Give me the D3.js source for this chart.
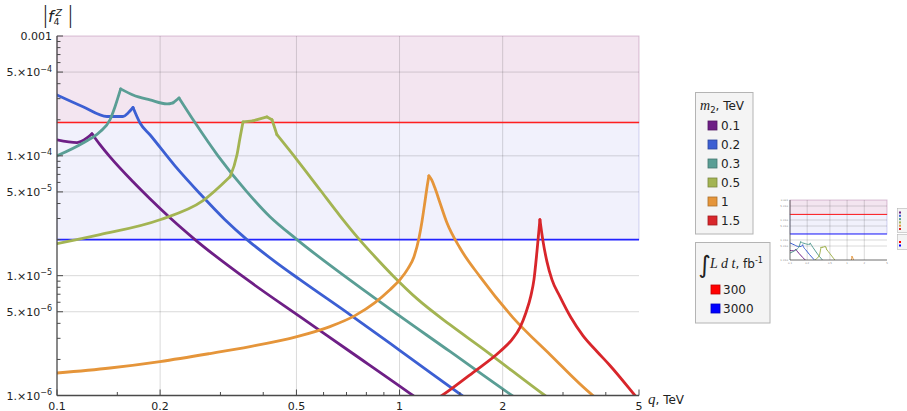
<!DOCTYPE html>
<html>
<head>
<meta charset="utf-8">
<script src="https://cdn.jsdelivr.net/npm/d3@7"></script>
<style>
  body { margin: 0; background: #fff; }
  svg { display: block; }
  text { font-family: "DejaVu Sans", sans-serif; }
</style>
</head>
<body>
<svg id="chart" width="907" height="411"></svg>
<script>
// ---- data: |f4^Z| sensitivity vs. q (TeV) for several m2 values ----
const massLabels = ["0.1", "0.2", "0.3", "0.5", "1", "1.5"];
const massColors = ["#6e1f86", "#3c5fd3", "#5a9e95", "#a3b452", "#e5953a", "#d8262b"];

const q_m01 = [0.1, 0.1144, 0.1223, 0.1265, 0.1335, 0.1428, 0.1667, 0.1868, 0.2137, 0.2528, 0.366, 0.512, 0.7165, 1.094, 1.227];
const f_m01 = [1.36e-4, 1.29e-4, 1.41e-4, 1.53e-4, 1.24e-4, 9.8e-5, 6.07e-5, 4.38e-5, 3.04e-5, 2.0e-5, 8.9e-6, 4.55e-6, 2.33e-6, 1.0e-6, 7.9e-7];

const q_m02 = [0.1, 0.1191, 0.1399, 0.1558, 0.1612, 0.1667, 0.1747, 0.1868, 0.221, 0.2615, 0.3093, 0.3585, 0.4328, 0.512, 0.7165, 1.003, 1.521, 1.717];
const f_m02 = [3.22e-4, 2.57e-4, 2.13e-4, 2.13e-4, 2.28e-4, 2.53e-4, 1.88e-4, 1.5e-4, 8.25e-5, 4.83e-5, 2.93e-5, 2.0e-5, 1.31e-5, 9.26e-6, 4.73e-6, 2.37e-6, 1.0e-6, 7.79e-7];

const q_m03 = [0.1, 0.1191, 0.1335, 0.1428, 0.1476, 0.1534, 0.1667, 0.1868, 0.2095, 0.2181, 0.2271, 0.2528, 0.2951, 0.3585, 0.4185, 0.5019, 0.859, 1.403, 2.129, 2.402];
const f_m03 = [1.0e-4, 1.28e-4, 1.585e-4, 2.0e-4, 2.56e-4, 3.62e-4, 3.22e-4, 2.93e-4, 2.71e-4, 2.77e-4, 3.04e-4, 1.895e-4, 1.0e-4, 5.0e-5, 3.1e-5, 2.0e-5, 6.31e-6, 2.33e-6, 1.0e-6, 7.9e-7];

const q_m05 = [0.1, 0.1335, 0.1998, 0.2668, 0.3199, 0.3353, 0.3421, 0.3491, 0.3734, 0.4102, 0.4243, 0.4386, 0.5019, 0.5857, 0.6699, 0.756, 0.8475, 0.9566, 1.124, 1.403, 1.717, 2.657, 2.939];
const f_m05 = [1.85e-5, 2.2e-5, 2.93e-5, 4.22e-5, 6.68e-5, 1.02e-4, 1.41e-4, 1.92e-4, 1.96e-4, 2.11e-4, 2.0e-4, 1.5e-4, 9.26e-5, 5.21e-5, 3.16e-5, 2.07e-5, 1.44e-5, 1.0e-5, 6.43e-6, 3.9e-6, 2.56e-6, 1.0e-6, 8.1e-7];

const q_m1 = [0.1, 0.1428, 0.1998, 0.2797, 0.366, 0.5019, 0.6264, 0.741, 0.8475, 0.9376, 1.003, 1.058, 1.102, 1.14, 1.1624, 1.186, 1.202, 1.218, 1.241, 1.268, 1.312, 1.375, 1.501, 1.717, 2.143, 2.748, 3.669, 3.977];
const f_m1 = [1.54e-6, 1.696e-6, 1.92e-6, 2.24e-6, 2.56e-6, 3.1e-6, 3.76e-6, 4.64e-6, 5.96e-6, 7.64e-6, 9.26e-6, 1.144e-5, 1.44e-5, 2.07e-5, 2.82e-5, 4.14e-5, 5.41e-5, 6.81e-5, 6.31e-5, 5.41e-5, 4.06e-5, 2.76e-5, 1.7e-5, 9.81e-6, 4.47e-6, 2.2e-6, 1.0e-6, 8.41e-7];

const q_m15 = [1.227, 1.33, 1.638, 1.964, 2.129, 2.246, 2.338, 2.418, 2.468, 2.518, 2.569, 2.621, 2.693, 2.785, 2.939, 3.164, 3.43, 3.769, 4.113, 4.866, 5.204];
const f_m15 = [8.58e-7, 1.0e-6, 1.555e-6, 2.33e-6, 2.93e-6, 3.69e-6, 4.91e-6, 6.81e-6, 9.26e-6, 1.585e-5, 2.93e-5, 1.96e-5, 1.31e-5, 9.26e-6, 6.68e-6, 4.47e-6, 3.16e-6, 2.33e-6, 1.78e-6, 1.0e-6, 7.9e-7];

// luminosity limits (fb^-1) and their bounds
const lumiLabels = ["300", "3000"];
const lumiLimits = [1.9e-4, 2.0e-5];
const lumiColors = ["#ff1f1f", "#2323ff"];
const lumiSwatch = ["#ff0000", "#0000ff"];

// axis ticks
const xMajor = [0.1, 0.2, 0.5, 1, 2, 5];
const xMajorLabels = ["0.1", "0.2", "0.5", "1", "2", "5"];
const xMinor = [0.15, 0.3, 0.4, 0.6, 0.7, 0.8, 0.9, 1.5, 3, 4];
const yMajor = [1e-3, 5e-4, 1e-4, 5e-5, 1e-5, 5e-6, 1e-6];
const yMajorMant = ["0.001", "5.×10", "1.×10", "5.×10", "1.×10", "5.×10", "1.×10"];
const yMajorExp = ["", "−4", "−4", "−5", "−5", "−6", "−6"];
const xGrid = [0.2, 0.5, 1, 2];
const yGrid = [5e-4, 1e-4, 5e-5, 1e-5, 5e-6];

const qSeries = [q_m01, q_m02, q_m03, q_m05, q_m1, q_m15];
const fSeries = [f_m01, f_m02, f_m03, f_m05, f_m1, f_m15];
const series = massLabels.map((m, i) => ({
  m, color: massColors[i],
  pts: qSeries[i].map((q, j) => [q, fSeries[i][j]])
}));

// split a curve at its sharp maxima and abrupt bends (judged in screen space)
// so each piece is drawn smooth while thresholds stay pointed
function pieces(pts, xs, ys) {
  const P = pts.map(d => [xs(d[0]), ys(d[1])]);
  const out = [];
  let start = 0;
  for (let i = 1; i < pts.length - 1; i++) {
    const s0 = (P[i][1] - P[i - 1][1]) / (P[i][0] - P[i - 1][0]);
    const s1 = (P[i + 1][1] - P[i][1]) / (P[i + 1][0] - P[i][0]);
    const peak = pts[i][1] > pts[i - 1][1] && pts[i][1] > pts[i + 1][1];
    const r = Math.abs(s1) / Math.abs(s0);
    const bend = s0 * s1 > 0 && (r > 2.2 || r < 1 / 2.2);
    if (peak || bend) {
      out.push(pts.slice(start, i + 1));
      start = i;
    }
  }
  out.push(pts.slice(start));
  return out;
}

// ---- drawing ----
const svg = d3.select("#chart");
const P = { left: 57, right: 639, top: 36, bottom: 395.5 };
const x = d3.scaleLog().domain([0.1, 5]).range([P.left, P.right]);
const y = d3.scaleLog().domain([1e-6, 1e-3]).range([P.bottom, P.top]);

function drawPanel(g, xs, ys, ysCurve, lw, opts) {
  const x0 = xs.range()[0], x1 = xs.range()[1];
  const yb = ys.range()[0], yt = ys.range()[1];
  const id = opts.id;
  g.append("clipPath").attr("id", id).append("rect")
    .attr("x", x0).attr("y", yt).attr("width", x1 - x0).attr("height", yb - yt);

  // shaded regions above each luminosity bound
  g.append("rect").attr("x", x0).attr("y", yt)
    .attr("width", x1 - x0).attr("height", ys(lumiLimits[0]) - yt)
    .attr("fill", "#f3e5f0").attr("stroke", "rgba(150,80,140,0.35)").attr("stroke-width", 1);
  g.append("rect").attr("x", x0).attr("y", ys(lumiLimits[0]))
    .attr("width", x1 - x0).attr("height", ys(lumiLimits[1]) - ys(lumiLimits[0]))
    .attr("fill", "#f1f1fc").attr("stroke", "rgba(90,90,200,0.25)").attr("stroke-width", 1);

  // grid
  g.selectAll(null).data(yGrid).enter().append("line")
    .attr("x1", x0).attr("x2", x1).attr("y1", d => ys(d)).attr("y2", d => ys(d))
    .attr("stroke", "rgba(0,0,0,0.15)").attr("stroke-width", 1);
  g.selectAll(null).data(xGrid).enter().append("line")
    .attr("y1", yt).attr("y2", yb).attr("x1", d => xs(d)).attr("x2", d => xs(d))
    .attr("stroke", "rgba(0,0,0,0.15)").attr("stroke-width", 1);

  // luminosity bounds
  g.selectAll(null).data(lumiLimits).enter().append("line")
    .attr("x1", x0).attr("x2", x1).attr("y1", d => ys(d)).attr("y2", d => ys(d))
    .attr("stroke", (d, i) => lumiColors[i]).attr("stroke-width", opts.boundW);

  // curves
  const line = d3.line().x(d => xs(d[0])).y(d => ysCurve(d[1])).curve(d3.curveMonotoneX);
  const cg = g.append("g").attr("clip-path", `url(#${id})`);
  series.forEach(s => {
    cg.selectAll(null).data(pieces(s.pts, xs, ysCurve)).enter().append("path")
      .attr("d", d => line(d)).attr("fill", "none")
      .attr("stroke", s.color).attr("stroke-width", lw)
      .attr("stroke-linejoin", "round").attr("stroke-linecap", "round");
  });

  // axes
  g.append("line").attr("x1", x0).attr("x2", x0).attr("y1", yt).attr("y2", yb)
    .attr("stroke", "#4a4a4a").attr("stroke-width", opts.axisW);
  g.append("line").attr("x1", x0).attr("x2", x1).attr("y1", yb).attr("y2", yb)
    .attr("stroke", "#4a4a4a").attr("stroke-width", opts.axisW);
}

const main = svg.append("g");
drawPanel(main, x, y, y, 2.8, { id: "clipMain", boundW: 1.6, axisW: 1.3 });

// ticks (pointing inward)
const tk = svg.append("g").attr("stroke", "#4a4a4a").attr("stroke-width", 1);
tk.selectAll(null).data(xMajor).enter().append("line")
  .attr("x1", d => x(d)).attr("x2", d => x(d)).attr("y1", P.bottom).attr("y2", P.bottom - 6);
tk.selectAll(null).data(xMinor).enter().append("line")
  .attr("x1", d => x(d)).attr("x2", d => x(d)).attr("y1", P.bottom).attr("y2", P.bottom - 3.5);
const yMinor = [];
[1e-6, 1e-5, 1e-4].forEach(dec => {
  for (let k = 2; k <= 9; k++) if (k !== 5) yMinor.push(k * dec);
});
tk.selectAll(null).data(yMajor).enter().append("line")
  .attr("y1", d => y(d)).attr("y2", d => y(d)).attr("x1", P.left).attr("x2", P.left + 6);
tk.selectAll(null).data(yMinor).enter().append("line")
  .attr("y1", d => y(d)).attr("y2", d => y(d)).attr("x1", P.left).attr("x2", P.left + 3.5);

// tick labels
svg.append("g").selectAll("text").data(xMajor).enter().append("text")
  .attr("x", d => x(d)).attr("y", 409.5).attr("text-anchor", "middle")
  .attr("font-size", 11).attr("fill", "#222").text((d, i) => xMajorLabels[i]);

const yl = svg.append("g").selectAll("text").data(yMajor).enter().append("text")
  .attr("x", 52).attr("y", d => y(d) + 4).attr("text-anchor", "end")
  .attr("font-size", 11).attr("fill", "#222");
yl.append("tspan").text((d, i) => yMajorMant[i]);
yl.append("tspan").attr("dy", -4.5).attr("font-size", 8).text((d, i) => yMajorExp[i]);

// axis titles
const yt = svg.append("g").attr("fill", "#222");
yt.append("text").attr("x", 41.5).attr("y", 23).attr("font-size", 23).attr("font-weight", 200).text("|");
yt.append("text").attr("x", 48).attr("y", 22).attr("font-size", 16)
  .attr("font-family", "Liberation Serif").attr("font-style", "italic").text("f");
yt.append("text").attr("x", 53.5).attr("y", 25).attr("font-size", 9.5).text("4");
yt.append("text").attr("x", 55.5).attr("y", 15.5).attr("font-size", 9.5)
  .attr("font-family", "Liberation Serif").attr("font-style", "italic").text("Z");
yt.append("text").attr("x", 66.5).attr("y", 23).attr("font-size", 23).attr("font-weight", 200).text("|");

const xt = svg.append("text").attr("x", 648).attr("y", 403.5).attr("fill", "#222");
xt.append("tspan").attr("font-family", "Liberation Serif").attr("font-style", "italic")
  .attr("font-size", 15).text("q");
xt.append("tspan").attr("font-size", 12).text(", TeV");

// ---- legends ----
const lg = svg.append("g");
lg.append("rect").attr("x", 695.5).attr("y", 92.5).attr("width", 57.5).attr("height", 141.5)
  .attr("fill", "#f4f4f4").attr("stroke", "#b4b4b4");
const t1 = lg.append("text").attr("x", 700).attr("y", 110).attr("fill", "#222");
t1.append("tspan").attr("font-family", "Liberation Serif").attr("font-style", "italic")
  .attr("font-size", 14).text("m");
t1.append("tspan").attr("font-size", 8.5).attr("dy", 3).text("2");
t1.append("tspan").attr("font-size", 12).attr("dy", -3).text(", TeV");

const items = lg.selectAll("g.item").data(series).enter().append("g")
  .attr("transform", (d, i) => `translate(708,${121 + i * 19})`);
items.append("rect").attr("width", 9).attr("height", 9)
  .attr("fill", d => d.color).attr("stroke", d => d3.color(d.color).darker(0.8)).attr("stroke-width", 0.8);
items.append("text").attr("x", 13).attr("y", 9).attr("font-size", 12).attr("fill", "#222").text(d => d.m);

lg.append("rect").attr("x", 695.5).attr("y", 242.5).attr("width", 74.5).attr("height", 80.5)
  .attr("fill", "#f4f4f4").attr("stroke", "#b4b4b4");
lg.append("text").attr("x", 698.5).attr("y", 273).attr("font-family", "Liberation Serif")
  .attr("font-size", 24).attr("fill", "#222").text("∫");
const t2 = lg.append("text").attr("x", 710).attr("y", 268).attr("fill", "#222");
t2.append("tspan").attr("font-family", "Liberation Serif").attr("font-style", "italic")
  .attr("font-size", 14).text("L d t");
t2.append("tspan").attr("font-size", 12).text(", fb");
t2.append("tspan").attr("font-size", 8).attr("dy", -5).text("-1");

const litems = lg.selectAll("g.litem").data(lumiLabels).enter().append("g")
  .attr("transform", (d, i) => `translate(711,${285 + i * 19})`);
litems.append("rect").attr("width", 9).attr("height", 9)
  .attr("fill", (d, i) => lumiSwatch[i]).attr("stroke", (d, i) => d3.color(lumiSwatch[i]).darker(0.8)).attr("stroke-width", 0.8);
litems.append("text").attr("x", 12).attr("y", 9).attr("font-size", 12).attr("fill", "#222").text(d => d);

// ---- small preview panel ----
const th = svg.append("g");
const tx = d3.scaleLog().domain([0.1, 5]).range([790, 887]);
const ty = d3.scaleLog().domain([1e-6, 1e-3]).range([260, 200]);
const tyCurve = d3.scaleLog().domain([4.5e-5, 4.5e-2]).range([260, 200]);
drawPanel(th, tx, ty, tyCurve, 1, { id: "clipThumb", boundW: 1, axisW: 0.8 });
th.selectAll(null).data(yMajor).enter().append("text")
  .attr("x", 788).attr("y", d => ty(d) + 1).attr("text-anchor", "end")
  .attr("font-size", 2.5).attr("fill", "#777").text((d, i) => yMajorMant[i]);
th.selectAll(null).data(xMajor).enter().append("text")
  .attr("x", d => tx(d)).attr("y", 264).attr("text-anchor", "middle")
  .attr("font-size", 2.5).attr("fill", "#777").text((d, i) => xMajorLabels[i]);
th.append("rect").attr("x", 897.5).attr("y", 208.5).attr("width", 10).attr("height", 24)
  .attr("fill", "#f4f4f4").attr("stroke", "#b4b4b4").attr("stroke-width", 0.6);
th.selectAll(null).data(series).enter().append("rect")
  .attr("x", 899).attr("y", (d, i) => 211.5 + i * 3.3).attr("width", 2).attr("height", 2)
  .attr("fill", d => d.color);
th.append("rect").attr("x", 897.5).attr("y", 234.5).attr("width", 10).attr("height", 15)
  .attr("fill", "#f4f4f4").attr("stroke", "#b4b4b4").attr("stroke-width", 0.6);
th.selectAll(null).data(lumiSwatch).enter().append("rect")
  .attr("x", 899).attr("y", (d, i) => 241 + i * 3.5).attr("width", 2).attr("height", 2)
  .attr("fill", d => d);
</script>
</body>
</html>
